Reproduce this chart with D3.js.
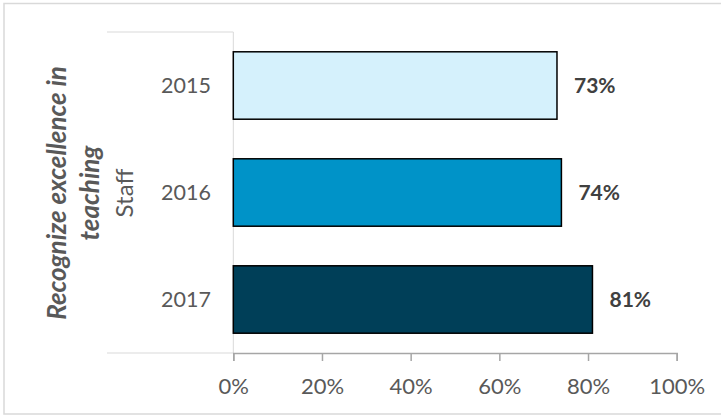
<!DOCTYPE html>
<html><head><meta charset="utf-8">
<script src="https://cdn.jsdelivr.net/npm/d3@7"></script>
<style>html,body{margin:0;padding:0;background:#fff;}svg{display:block;}svg text{font-family:Lato,"Open Sans",sans-serif;}</style>
</head><body>
<svg id="c" width="721" height="415"></svg>
<script>
const categories = ["2015", "2016", "2017"];
const values = [0.73, 0.74, 0.81];
const barColors = ["#D5F1FC", "#0093C8", "#003F58"];
const ticks = [0, 0.2, 0.4, 0.6, 0.8, 1.0];
const groupLabel = "Staff";
const titleLines = ["Recognize excellence in", "teaching"];

const svg = d3.select("#c");
svg.append("rect").attr("x", 4).attr("y", 3.5).attr("width", 730).attr("height", 410.5)
  .attr("fill", "#fff").attr("stroke", "#d9d9d9").attr("stroke-width", 1.5);

const x = d3.scaleLinear().domain([0, 1]).range([233.3, 676.7]);
const y = d3.scaleBand().domain(categories).range([32, 353]).paddingInner(0.37).paddingOuter(0.185);

svg.append("line").attr("x1", x(0)).attr("x2", x(0)).attr("y1", 32).attr("y2", 353)
  .attr("stroke", "#d9d9d9").attr("stroke-width", 1);
[32, 353].forEach(v => svg.append("line").attr("x1", 107).attr("x2", x(0)).attr("y1", v).attr("y2", v)
  .attr("stroke", "#d9d9d9").attr("stroke-width", 1));

svg.selectAll("rect.bar").data(categories).enter().append("rect").attr("class", "bar")
  .attr("x", x(0)).attr("y", d => y(d))
  .attr("width", (d, i) => x(values[i]) - x(0)).attr("height", y.bandwidth())
  .attr("fill", (d, i) => barColors[i]).attr("stroke", "#000").attr("stroke-width", 1.5);

svg.selectAll("text.val").data(categories).enter().append("text").attr("class", "val")
  .attr("x", (d, i) => x(values[i]) + 17).attr("y", d => y(d) + y.bandwidth() / 2)
  .attr("dy", "0.35em").attr("fill", "#404040").attr("font-weight", "bold").attr("font-size", 21)
  .text((d, i) => Math.round(values[i] * 100) + "%");

svg.selectAll("text.cat").data(categories).enter().append("text").attr("class", "cat")
  .attr("x", 211).attr("y", d => y(d) + y.bandwidth() / 2).attr("dy", "0.35em")
  .attr("text-anchor", "end").attr("fill", "#595959").attr("font-size", 21.5).text(d => d);

const xAxis = d3.axisBottom(x).tickValues(ticks).tickFormat(d3.format(".0%")).tickSize(8);
const g = svg.append("g").attr("transform", "translate(0,353)").call(xAxis);
g.select(".domain").attr("stroke", "#a6a6a6").attr("stroke-width", 1.5);
g.selectAll(".tick line").attr("stroke", "#a6a6a6").attr("stroke-width", 1.5);
g.selectAll(".tick text").attr("fill", "#595959").attr("font-size", 22).attr("y", 33).attr("dy", "0.35em");

svg.append("text").attr("transform", "translate(125,193) rotate(-90)").attr("text-anchor", "middle")
  .attr("dy", "0.35em").attr("fill", "#595959").attr("font-size", 24).text(groupLabel);

const tl = svg.append("text").attr("transform", "translate(57,193) rotate(-90)").attr("text-anchor", "middle")
  .attr("fill", "#595959").attr("font-size", 26).attr("font-weight", "bold").attr("font-style", "italic");
titleLines.forEach((t, i) => tl.append("tspan").attr("x", 0).attr("y", i * 33).attr("dy", "0.35em").text(t));
</script>
</body></html>
